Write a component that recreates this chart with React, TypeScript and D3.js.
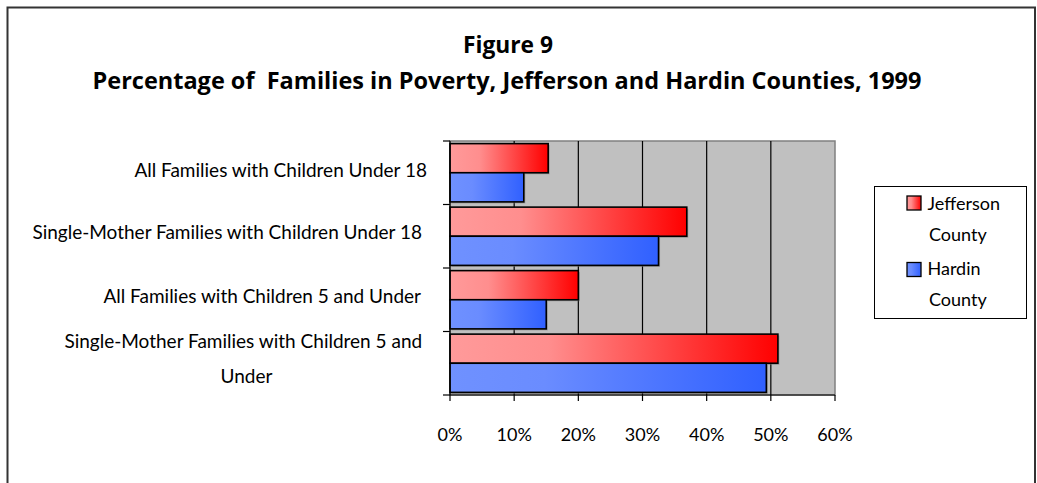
import React from "react";
import * as d3 from "d3";

const categories = [
  ["All Families with Children Under 18"],
  ["Single-Mother Families with Children Under 18"],
  ["All Families with Children 5 and Under"],
  ["Single-Mother Families with Children 5 and", "Under"],
];
const jefferson = [15.3, 36.9, 20.0, 51.1];
const hardin = [11.5, 32.5, 15.0, 49.3];
const seriesNames = [["Jefferson", "County"], ["Hardin", "County"]];
const xTicks = [0, 10, 20, 30, 40, 50, 60];

const W = 1037, H = 483;
const FONT = "Lato, 'Open Sans', sans-serif";
const TFONT = "'Open Sans', Lato, sans-serif";

export default function App() {
  const x = d3.scaleLinear().domain([0, 60]).range([450, 835]);
  const y = d3.scaleBand<number>().domain(d3.range(categories.length)).range([141, 395]);
  const inner = d3.scaleBand<number>().domain([0, 1]).range([0, y.bandwidth()]).paddingOuter(0.09);
  const series = [jefferson, hardin];
  const grads = ["gradRed", "gradBlue"];
  const labelBase = [177.3, 239.3, 303.3];
  const labelRight = [427, 422, 421];
  return (
    <div style={{ position: "absolute", left: 0, top: 0 }}>
      <svg width={W} height={H} style={{ display: "block" }}>
        <defs>
          <linearGradient id="gradRed" x1="0" x2="1" y1="0" y2="0">
            <stop offset="0" stopColor="#ff9a9a" />
            <stop offset="0.3" stopColor="#ff8e8e" />
            <stop offset="1" stopColor="#ff0000" />
          </linearGradient>
          <linearGradient id="gradBlue" x1="0" x2="1" y1="0" y2="0">
            <stop offset="0" stopColor="#6f91ff" />
            <stop offset="0.3" stopColor="#6a8cff" />
            <stop offset="1" stopColor="#3060ff" />
          </linearGradient>
        </defs>
        <rect x={0} y={0} width={W} height={H} fill="#fff" />
        <path d={`M7.5,${H} V7.5 H1035 V${H}`} fill="none" stroke="#333" strokeWidth={2} />
        <text x={508} y={53.3} textAnchor="middle" fontFamily={TFONT} fontWeight="bold" fontSize={22.5} fill="#000" textLength={90} lengthAdjust="spacingAndGlyphs">Figure 9</text>
        <text x={507} y={88.5} textAnchor="middle" fontFamily={TFONT} fontWeight="bold" fontSize={22.5} fill="#000" xmlSpace="preserve" textLength={829} lengthAdjust="spacingAndGlyphs">Percentage of  Families in Poverty, Jefferson and Hardin Counties, 1999</text>
        {/* plot area */}
        <rect x={x(0)} y={141} width={x(60) - x(0)} height={254} fill="#c0c0c0" stroke="#808080" strokeWidth={1.5} />
        {xTicks.slice(1, -1).map(t => (
          <line key={t} x1={x(t)} x2={x(t)} y1={141} y2={395} stroke="#000" strokeWidth={1.2} />
        ))}
        {series.map((s, si) => s.map((v, ci) => {
          const by = (y(ci) as number) + (inner(si) as number);
          return (
            <g key={`${si}-${ci}`}>
              <rect x={x(0) + 1.5} y={by + 1.5} width={x(v) - x(0)} height={inner.bandwidth()} fill="#808080" opacity={0.6} />
              <rect x={x(0)} y={by} width={x(v) - x(0)} height={inner.bandwidth()} fill={`url(#${grads[si]})`} stroke="#000" strokeWidth={1.6} />
            </g>
          );
        }))}
        {/* axes */}
        <line x1={x(0)} x2={x(0)} y1={141} y2={395} stroke="#000" strokeWidth={1.2} />
        <line x1={x(0)} x2={x(60)} y1={395} y2={395} stroke="#000" strokeWidth={1.2} />
        {d3.range(categories.length + 1).map(i => {
          const yy = i < categories.length ? (y(i) as number) : 395;
          return <line key={i} x1={x(0) - 7} x2={x(0)} y1={yy} y2={yy} stroke="#000" strokeWidth={1.2} />;
        })}
        {xTicks.map(t => (
          <g key={t}>
            <line x1={x(t)} x2={x(t)} y1={395} y2={401} stroke="#000" strokeWidth={1.2} />
            <text x={x(t)} y={440.7} textAnchor="middle" fontFamily={FONT} fontSize={18} fill="#000">{t}%</text>
          </g>
        ))}
        {categories.map((c, i) => {
          if (c.length === 1) {
            return <text key={i} x={labelRight[i]} y={labelBase[i]} textAnchor="end" fontFamily={FONT} fontSize={19} fill="#000">{c[0]}</text>;
          }
          return (
            <g key={i}>
              <text x={243.3} y={348.3} textAnchor="middle" fontFamily={FONT} fontSize={19} fill="#000">{c[0]}</text>
              <text x={246.5} y={383.3} textAnchor="middle" fontFamily={FONT} fontSize={19} fill="#000">{c[1]}</text>
            </g>
          );
        })}
        {/* legend */}
        <rect x={874.5} y={186.5} width={152} height={132} fill="#fff" stroke="#000" strokeWidth={1} />
        {seriesNames.map((n, i) => {
          const top = i === 0 ? 196 : 262.5;
          const base = i === 0 ? 210 : 275;
          return (
            <g key={i}>
              <rect x={907} y={top} width={14} height={14} fill={`url(#${grads[i]})`} stroke="#000" strokeWidth={1.3} />
              <text x={927.5} y={base} fontFamily={FONT} fontSize={18} fill="#000">{n[0]}</text>
              <text x={929} y={base + 30.7} fontFamily={FONT} fontSize={18} fill="#000">{n[1]}</text>
            </g>
          );
        })}
      </svg>
    </div>
  );
}
